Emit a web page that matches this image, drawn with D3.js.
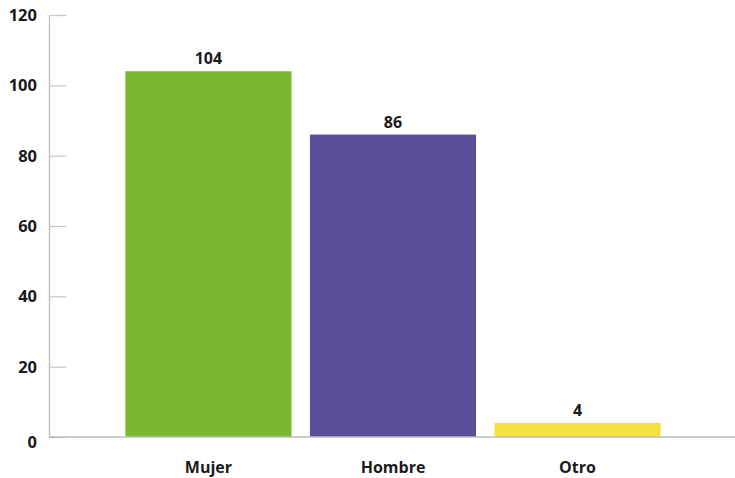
<!DOCTYPE html>
<html>
<head>
<meta charset="utf-8">
<script src="https://cdn.jsdelivr.net/npm/d3@7"></script>
<style>
  html, body { margin: 0; padding: 0; background: #fff; }
  svg { display: block; }
  text { font-family: "Open Sans", "Noto Sans", sans-serif; font-weight: 700; fill: #1a1a1a; }
</style>
</head>
<body>
<svg id="chart" width="735" height="478"></svg>
<script>
const categories = ["Mujer", "Hombre", "Otro"];
const values = [104, 86, 4];
const colors = ["#78b72e", "#5b4e9a", "#f3e33c"];
const yTicks = [0, 20, 40, 60, 80, 100, 120];

const svg = d3.select("#chart");
const margin = { left: 49, right: -2, top: 15, bottom: 41 };
const W = 735, H = 478;

const x = d3.scaleBand()
  .domain(categories)
  .range([margin.left, W - margin.right])
  .paddingInner(0.1)
  .paddingOuter(0.414);

const y = d3.scaleLinear()
  .domain([0, 120])
  .range([H - margin.bottom, margin.top]);

// y axis: ticks extend to the right of the axis line
const yAxis = svg.append("g")
  .attr("transform", `translate(${margin.left},0)`)
  .call(d3.axisRight(y).tickValues(yTicks).tickSize(17).tickSizeOuter(0).tickFormat(""));
yAxis.select(".domain").attr("stroke", "#bdbdbd").attr("stroke-width", 1.3);
yAxis.selectAll(".tick line").attr("stroke", "#c8c8c8").attr("stroke-width", 1.3);

// tick labels
svg.append("g").selectAll("text")
  .data(yTicks)
  .join("text")
  .attr("x", 37)
  .attr("y", d => y(d) + (d === 0 ? 11 : 6))
  .attr("text-anchor", "end")
  .attr("font-size", 16.5)
  .text(d => d);

// bars
svg.append("g").selectAll("rect")
  .data(values)
  .join("rect")
  .attr("x", (d, i) => x(categories[i]))
  .attr("width", x.bandwidth())
  .attr("y", d => y(d))
  .attr("height", d => y(0) - y(d))
  .attr("fill", (d, i) => colors[i]);

// baseline
svg.append("line")
  .attr("x1", margin.left).attr("x2", W)
  .attr("y1", y(0)).attr("y2", y(0))
  .attr("stroke", "#bdbdbd").attr("stroke-width", 1.5);

// value labels
svg.append("g").selectAll("text")
  .data(values)
  .join("text")
  .attr("x", (d, i) => x(categories[i]) + x.bandwidth() / 2)
  .attr("y", d => y(d) - 7)
  .attr("text-anchor", "middle")
  .attr("font-size", 16)
  .text(d => d);

// category labels
svg.append("g").selectAll("text")
  .data(categories)
  .join("text")
  .attr("x", d => x(d) + x.bandwidth() / 2)
  .attr("y", 473)
  .attr("text-anchor", "middle")
  .attr("font-size", 16)
  .text(d => d);
</script>
</body>
</html>
